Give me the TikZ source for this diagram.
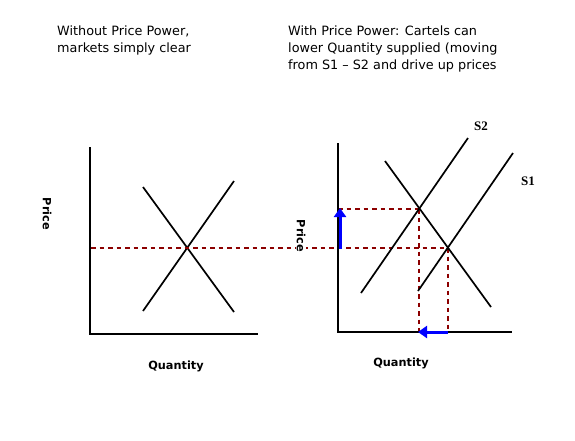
\documentclass[tikz,border=0pt]{standalone}
\usepackage{fontspec}
\setmainfont{DejaVu Sans}
\newfontfamily\serifb{Liberation Serif}
\usetikzlibrary{arrows.meta}
\definecolor{dred}{RGB}{140,0,0}
\definecolor{ablue}{RGB}{0,0,255}
\begin{document}
\begin{tikzpicture}[x=1pt,y=-1pt,
  axis/.style={line width=2.6pt},
  curve/.style={line width=1.7pt},
  guide/.style={dred,line width=1.2pt,dash pattern=on 4.5pt off 4pt},
  move/.style={ablue,line width=3pt,-{Triangle[length=9pt,width=12pt]}},
  ttl/.style={anchor=north west,align=left,font=\fontsize{12.8}{17}\selectfont,inner sep=0pt},
  alab/.style={font=\bfseries\fontsize{11.3}{13}\selectfont,inner sep=1pt},
  slab/.style={font=\serifb\bfseries\fontsize{13}{15}\selectfont,inner sep=0pt}]
\useasboundingbox (0,0) rectangle (575,440);
% titles
\node[ttl] (t1) at (57,26) {Without Price Power,\\markets simply clear};
\node[ttl] (t2) at (288,26) {With Price Power: Cartels can\\lower Quantity supplied (moving\\from S1 -- S2 and drive up prices};
% left chart
\coordinate (lo) at (90,334);
\coordinate (ltop) at (90,147);
\coordinate (lright) at (258,334);
\draw[axis] (ltop) -- (lo) -- (lright);
\coordinate (ld1) at (143,187); \coordinate (ld2) at (234,312);
\coordinate (ls1) at (143,311); \coordinate (ls2) at (234,181);
\draw[curve] (ld1) -- (ld2);
\draw[curve] (ls1) -- (ls2);
\coordinate (lg1) at (91,248);
\coordinate (rB) at (448,248);
\draw[guide] (lg1) -- (rB);
\node[alab] (lq) at (176,366) {Quantity};
\node[alab,rotate=-90,fill=white] (lp) at (47,214) {Price};
% right chart
\coordinate (ro) at (338,332);
\coordinate (rtop) at (338,143);
\coordinate (rright) at (512,332);
\coordinate (rA) at (419,209);
\coordinate (rAy) at (338,209);
\coordinate (rAx) at (419,332);
\coordinate (rBx) at (448,332);
\draw[guide] (rAy) -- (rA);
\draw[guide] (rA) -- (rAx);
\draw[guide] (rB) -- (rBx);
\draw[axis] (rtop) -- (ro) -- (rright);
\coordinate (rd1) at (385,161); \coordinate (rd2) at (491,307);
\coordinate (s2a) at (361,293); \coordinate (s2b) at (468,138);
\coordinate (s1a) at (418,291); \coordinate (s1b) at (513,153);
\draw[curve] (rd1) -- (rd2);
\draw[curve] (s2a) -- (s2b);
\draw[curve] (s1a) -- (s1b);
\node[slab] (ls2l) at (481,126) {S2};
\node[slab] (ls1l) at (528,181) {S1};
\node[alab] (rq) at (401,363) {Quantity};
\node[alab,rotate=-90,fill=white] (rp) at (301,236) {Price};
% movement arrows
\coordinate (pa) at (340,249);
\coordinate (pb) at (340,208);
\draw[move] (pa) -- (pb);
\coordinate (qa) at (448,332);
\coordinate (qb) at (418,332);
\draw[move] (qa) -- (qb);
\end{tikzpicture}
\end{document}
